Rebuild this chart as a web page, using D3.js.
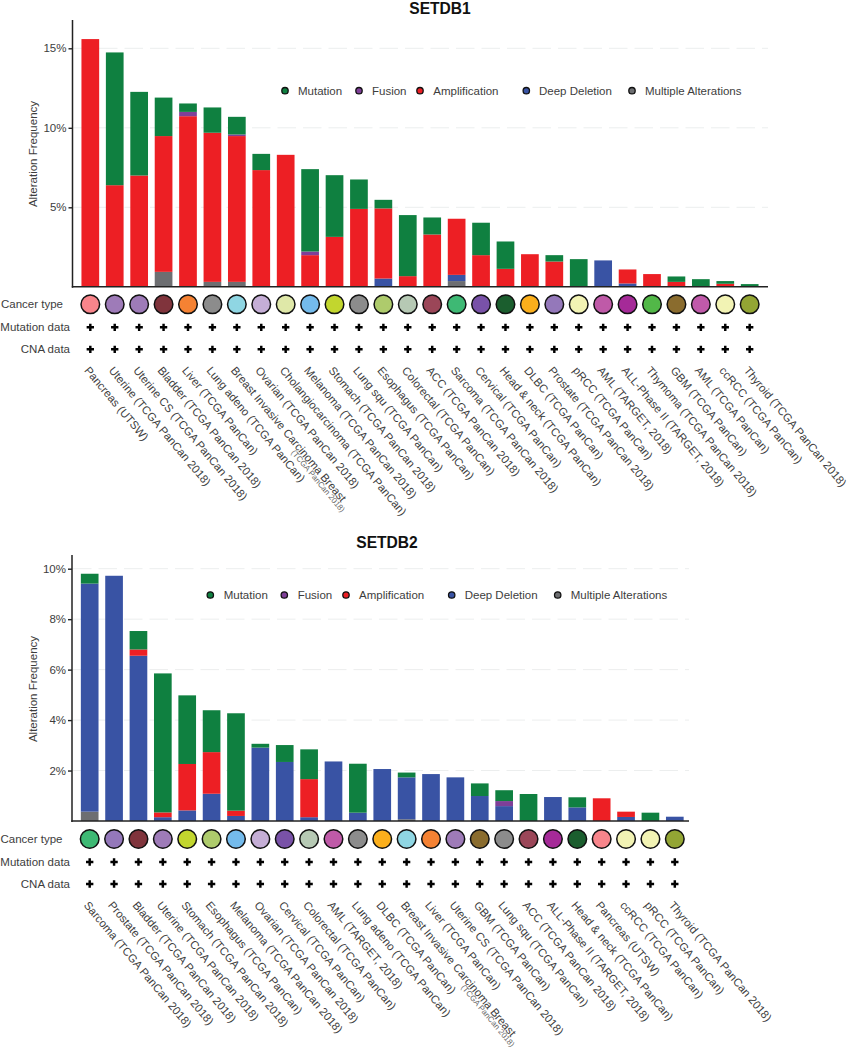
<!DOCTYPE html>
<html><head><meta charset="utf-8">
<script src="https://cdnjs.cloudflare.com/ajax/libs/d3/7.8.5/d3.min.js"></script>
<style>html,body{margin:0;padding:0;background:#fff}svg{display:block}text{font-family:"Liberation Sans",Arial,sans-serif;fill:#3d3d3d}</style>
</head><body><div id="chart"></div>
<script>
const legendLabels = ["Mutation","Fusion","Amplification","Deep Deletion","Multiple Alterations"];
const rowLabels = ["Cancer type","Mutation data","CNA data"];
const stackKeys = ["multiple","deep","amp","fusion","mutation"];

const db1Categories = ["Pancreas (UTSW)","Uterine (TCGA PanCan 2018)","Uterine CS (TCGA PanCan 2018)","Bladder (TCGA PanCan 2018)","Liver (TCGA PanCan)","Lung adeno (TCGA PanCan)","Breast Invasive Carcinoma Breast","Ovarian (TCGA PanCan 2018)","Cholangiocarcinoma (TCGA PanCan)","Melanoma (TCGA PanCan 2018)","Stomach (TCGA PanCan 2018)","Lung squ (TCGA PanCan)","Esophagus (TCGA PanCan)","Colorectal (TCGA PanCan)","ACC (TCGA PanCan 2018)","Sarcoma (TCGA PanCan 2018)","Cervical (TCGA PanCan)","Head & neck (TCGA PanCan)","DLBC (TCGA PanCan)","Prostate (TCGA PanCan 2018)","pRCC (TCGA PanCan)","AML (TARGET, 2018)","ALL-Phase II (TARGET, 2018)","Thymoma (TCGA PanCan 2018)","GBM (TCGA PanCan)","AML (TCGA PanCan)","ccRCC (TCGA PanCan)","Thyroid (TCGA PanCan 2018)"];
const db1Multiple = [0,0,0,.94,0,.31,.31,0,0,0,0,0,0,0,0,.36,0,0,0,0,0,0,0,0,0,0,0,0];
const db1Deep = [0,0,0,0,0,0,0,0,0,0,0,0,.52,0,0,.39,0,0,0,0,0,1.66,.21,0,0,0,0,0];
const db1Amp = [15.58,6.39,7,8.54,10.73,9.38,9.17,7.34,8.3,1.99,3.14,4.9,4.41,.67,3.29,3.53,1.99,1.13,2.05,1.59,0,0,.88,.8,.31,0,.19,0];
const db1Fusion = [0,0,0,0,.27,0,.1,0,0,.23,0,0,0,0,0,0,0,0,0,0,0,0,0,0,0,0,0,0];
const db1Mutation = [0,8.35,5.26,2.42,.53,1.59,1.11,1.02,0,5.18,3.88,1.85,.54,3.84,1.07,0,2.04,1.72,0,.4,1.74,0,0,0,.34,.48,.17,.17];
const db1Ticks = [5,10,15];
const db1Colors = ["#f8858b","#9e7bb8","#9e7bb8","#80343c","#f58233","#8c8c8c","#8fd6e3","#c5aed6","#dfe8a8","#74bbec","#c2d62e","#8c8c8c","#aecb6c","#b6c9b4","#9b4658","#3eb974","#7952a8","#1b5e2e","#fbaf1c","#9478ba","#f2f3b4","#bf5aa8","#a52a98","#52b848","#8a6c2e","#c05aaa","#f2f3b4","#93a534"];

const db2Categories = ["Sarcoma (TCGA PanCan 2018)","Prostate (TCGA PanCan 2018)","Bladder (TCGA PanCan 2018)","Uterine (TCGA PanCan 2018)","Stomach (TCGA PanCan 2018)","Esophagus (TCGA PanCan)","Melanoma (TCGA PanCan 2018)","Ovarian (TCGA PanCan 2018)","Cervical (TCGA PanCan)","Colorectal (TCGA PanCan)","AML (TARGET, 2018)","Lung adeno (TCGA PanCan)","DLBC (TCGA PanCan)","Breast Invasive Carcinoma Breast","Liver (TCGA PanCan)","Uterine CS (TCGA PanCan 2018)","GBM (TCGA PanCan)","Lung squ (TCGA PanCan)","ACC (TCGA PanCan 2018)","ALL-Phase II (TARGET, 2018)","Head & neck (TCGA PanCan)","Pancreas (UTSW)","ccRCC (TCGA PanCan)","pRCC (TCGA PanCan)","Thyroid (TCGA PanCan 2018)"];
const db2Multiple = [.37,0,0,0,0,0,0,0,0,0,0,0,0,.07,0,0,0,0,0,0,0,0,0,0,0];
const db2Deep = [9.04,9.72,6.55,.15,.42,1.08,.2,2.91,2.34,.15,2.36,.33,2.06,1.66,1.86,1.73,.99,.59,0,.95,.54,0,.16,0,.17];
const db2Amp = [0,0,.25,.19,1.84,1.65,.21,0,0,1.51,0,0,0,0,0,0,0,0,0,0,0,.9,.21,0,0];
const db2Fusion = [0,0,0,0,0,0,0,0,0,0,0,0,0,0,0,0,0,.2,0,0,0,0,0,0,0];
const db2Mutation = [.39,0,.73,5.51,2.72,1.66,3.86,.15,.67,1.18,0,1.94,0,.19,0,0,.5,.43,1.07,0,.4,0,0,.33,0];
const db2Ticks = [2,4,6,8,10];
const db2Colors = ["#3eb974","#9478ba","#80343c","#9e7bb8","#c2d62e","#aecb6c","#74bbec","#c5aed6","#7952a8","#b6c9b4","#bf5aa8","#8c8c8c","#fbaf1c","#8fd6e3","#f58233","#9e7bb8","#8a6c2e","#8c8c8c","#9b4658","#a52a98","#1b5e2e","#f8858b","#f2f3b4","#f2f3b4","#93a534"];

const alterationColor = d3.scaleOrdinal().domain(stackKeys).range(["#6d6e71","#3953a4","#ed1f24","#7f3f98","#0f8040"]);
const legendColor = {Mutation:"#0f8040",Fusion:"#7f3f98",Amplification:"#ed1f24","Deep Deletion":"#3953a4","Multiple Alterations":"#6d6e71"};

const svg = d3.select("#chart").append("svg").attr("width",848).attr("height",1050);

function panel(c){
  const g = svg.append("g");
  const n = c.categories.length;
  const x = d3.scaleBand().domain(d3.range(n)).range(c.xRange).paddingInner(.275).paddingOuter(.1375);
  const y = d3.scaleLinear().domain([0,c.maxTick]).range([c.base,c.tickTop]);
  const cx = i => x(i)+x.bandwidth()/2;

  g.append("text").attr("x",c.titleX).attr("y",c.titleY).attr("text-anchor","middle")
    .style("font-size","15.6px").style("font-weight","700").style("fill","#111").text(c.title);

  g.selectAll(".grid").data(c.ticks).join("line").attr("class","grid")
    .attr("x1",c.axisX+1).attr("x2",c.xEnd).attr("y1",d=>y(d)).attr("y2",d=>y(d))
    .attr("stroke","#eceeee").attr("stroke-width",1).attr("stroke-dasharray","18.5,7");

  const rows = d3.range(n).map(i=>({i,multiple:c.multiple[i],deep:c.deep[i],amp:c.amp[i],fusion:c.fusion[i],mutation:c.mutation[i]}));
  const series = d3.stack().keys(stackKeys)(rows);
  g.selectAll(".s").data(series).join("g").attr("class","s").attr("fill",d=>alterationColor(d.key))
    .selectAll("rect").data(d=>d.filter(p=>p[1]>p[0])).join("rect")
    .attr("x",d=>x(d.data.i)).attr("width",x.bandwidth())
    .attr("y",d=>y(d[1])).attr("height",d=>y(d[0])-y(d[1]));

  const axis = d3.axisLeft(y).tickValues(c.ticks).tickFormat(d=>d+"%").tickSize(4).tickPadding(2);
  const ag = g.append("g").attr("transform",`translate(${c.axisX},0)`).call(axis);
  ag.select(".domain").remove();
  ag.selectAll(".tick line").attr("stroke","#222").attr("stroke-width",1.4);
  ag.selectAll("text").style("font-size","11.5px");
  g.append("line").attr("x1",c.axisX).attr("x2",c.axisX).attr("y1",c.axisTop).attr("y2",c.base+1)
    .attr("stroke","#222").attr("stroke-width",1.5);
  g.append("line").attr("x1",c.axisX-.7).attr("x2",c.xEnd).attr("y1",c.base).attr("y2",c.base)
    .attr("stroke","#222").attr("stroke-width",1.5);

  g.append("text").attr("transform",`translate(37,${c.yLabelY}) rotate(-90)`).attr("text-anchor","middle")
    .style("font-size","11.5px").text("Alteration Frequency");

  c.legendDots.forEach((lx,i)=>{
    g.append("circle").attr("cx",lx).attr("cy",c.legendY).attr("r",3.2)
      .attr("fill",legendColor[legendLabels[i]]).attr("stroke","#111").attr("stroke-width",1.3);
    g.append("text").attr("x",c.legendText[i]).attr("y",c.legendY+4).style("font-size","11.5px").text(legendLabels[i]);
  });

  const ry = [c.circleY,c.circleY+23,c.circleY+45];
  rowLabels.forEach((t,i)=>{
    g.append("text").attr("x",i==0?c.rowX0:70).attr("y",ry[i]+4).attr("text-anchor",i==0?"start":"end")
      .style("font-size","11.5px").text(t);
  });
  g.selectAll(".dot").data(d3.range(n)).join("circle").attr("class","dot")
    .attr("cx",cx).attr("cy",c.circleY).attr("r",9.3)
    .attr("fill",i=>c.colors[i]).attr("stroke","#111").attr("stroke-width",1.5);
  const plus = d3.symbol(d3.symbolCross,30)();
  [ry[1],ry[2]].forEach(yy=>{
    g.selectAll(null).data(d3.range(n)).join("path").attr("d",plus)
      .attr("transform",i=>`translate(${cx(i)},${yy})`).attr("fill","#000");
  });

  g.selectAll(".lab").data(c.categories).join("text").attr("class","lab")
    .attr("transform",(d,i)=>`translate(${cx(i)-6.5},${c.circleY+66.5}) rotate(50)`)
    .style("font-size","11.4px").text(d=>d);
  const bi = c.categories.indexOf("Breast Invasive Carcinoma Breast");
  g.append("text").attr("transform",`translate(${cx(bi)+54},${c.circleY+148.5}) rotate(50)`)
    .style("font-size","8px").style("fill","#666").text("(TCGA PanCan 2018)");
}

panel({title:"SETDB1",titleX:440,titleY:14,categories:db1Categories,multiple:db1Multiple,deep:db1Deep,amp:db1Amp,fusion:db1Fusion,mutation:db1Mutation,
  ticks:db1Ticks,colors:db1Colors,maxTick:15,base:286.8,tickTop:48.3,axisX:72.5,axisTop:20,xRange:[78.1,761.9],xEnd:768,yLabelY:154,
  legendY:90.7,legendDots:[285,359,420,526.3,632],legendText:[298,372,433.3,539,645],circleY:304.3,rowX0:1});
panel({title:"SETDB2",titleX:387,titleY:548,categories:db2Categories,multiple:db2Multiple,deep:db2Deep,amp:db2Amp,fusion:db2Fusion,mutation:db2Mutation,
  ticks:db2Ticks,colors:db2Colors,maxTick:10,base:821,tickTop:568.7,axisX:72,axisTop:555,xRange:[77.5,687],xEnd:689,yLabelY:689,
  legendY:595,legendDots:[210.3,284.3,346,451.7,557.7],legendText:[223.7,297.7,359,464.7,570.7],circleY:839,rowX0:0.5});
</script></body></html>
